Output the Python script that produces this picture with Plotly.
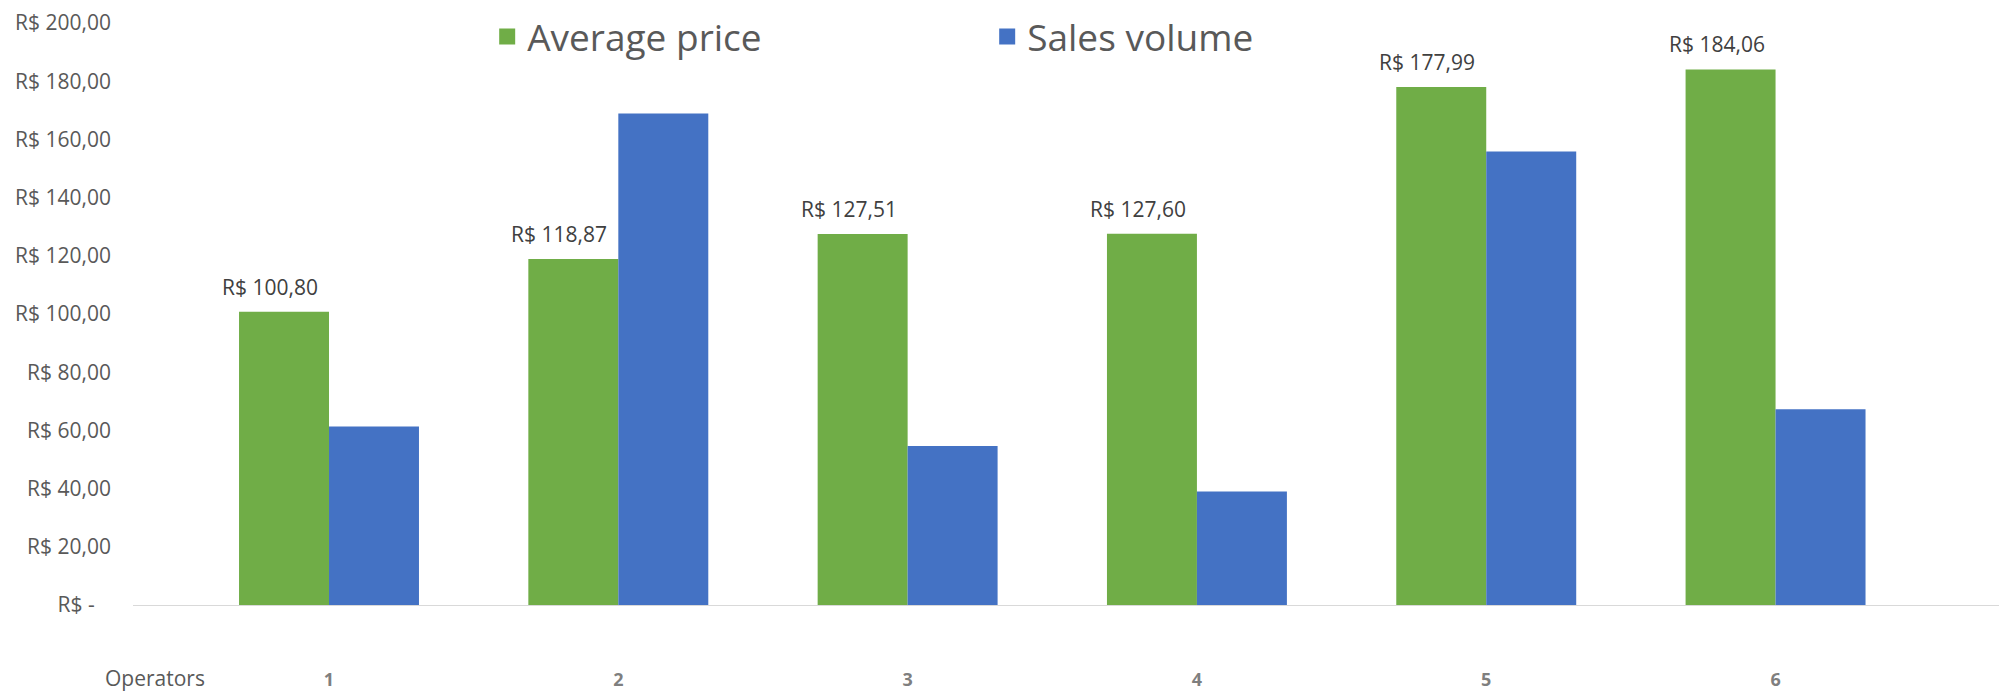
import plotly.graph_objects as go

# ---- data ----
operators = [1, 2, 3, 4, 5, 6]
operator_labels = ["1", "2", "3", "4", "5", "6"]
average_price = [100.80, 118.87, 127.51, 127.60, 177.99, 184.06]
sales_volume = [61.3, 168.9, 54.6, 39.0, 155.8, 67.3]
y_ticks = [0, 20, 40, 60, 80, 100, 120, 140, 160, 180, 200]


def brl(v):
    s = f"{v:,.2f}"
    s = s.replace(",", "X").replace(".", ",").replace("X", ".")
    return "R$ " + s


y_ticktext = [("R$ -\u00a0\u00a0\u00a0" if v == 0 else brl(v)) for v in y_ticks]

GREEN = "#70AD47"
BLUE = "#4472C4"
FONT = "Open Sans"
PAGE_OFFSET = 8  # default body margin of the html page

fig = go.Figure()
fig.add_trace(go.Bar(x=operators, y=average_price, name="Average price",
                     marker=dict(color=GREEN, line=dict(width=0)),
                     legendgroup="ap", showlegend=False))
fig.add_trace(go.Bar(x=operators, y=sales_volume, name="Sales volume",
                     marker=dict(color=BLUE, line=dict(width=0)),
                     legendgroup="sv", showlegend=False))
# legend entries (square markers)
fig.add_trace(go.Scatter(x=[None], y=[None], mode="markers", name="Average price",
                         marker=dict(symbol="square", size=16, color=GREEN),
                         legendgroup="ap"))
fig.add_trace(go.Scatter(x=[None], y=[None], mode="markers", name="Sales volume",
                         marker=dict(symbol="square", size=16, color=BLUE),
                         legendgroup="sv"))

# data labels for average price
for xv, yv in zip(operators, average_price):
    fig.add_annotation(x=xv, y=yv, text=brl(yv), showarrow=False,
                       xref="x", yref="y", xanchor="center", yanchor="middle",
                       xshift=-59, yshift=25,
                       font=dict(family=FONT, size=21, color="#404040"))

fig.add_annotation(text="Operators", xref="paper", yref="paper",
                   x=-0.016, y=-0.1246, xanchor="left", yanchor="middle",
                   showarrow=False, font=dict(family=FONT, size=21, color="#595959"))

fig.update_layout(
    width=2007 - PAGE_OFFSET, height=691 - PAGE_OFFSET,
    margin=dict(l=133 - PAGE_OFFSET, r=0, t=23 - PAGE_OFFSET, b=86, autoexpand=False),
    paper_bgcolor="white", plot_bgcolor="white",
    barmode="group", bargap=0.378, bargroupgap=0,
    font=dict(family=FONT, color="#595959"),
    legend=dict(orientation="h", x=0.189, xanchor="left", y=0.976, yanchor="middle",
                font=dict(family=FONT, size=37, color="#595959"),
                entrywidth=455, itemsizing="trace", bgcolor="rgba(0,0,0,0)"),
    showlegend=True,
)
fig.update_xaxes(range=[0.3225, 6.80], tickmode="array", tickvals=operators,
                 ticktext=operator_labels, showgrid=False, zeroline=False,
                 showline=True, linecolor="#d9d9d9", linewidth=1,
                 ticks="", ticklabelstandoff=58,
                 tickfont=dict(family=FONT, size=18, color="#7f7f7f", weight="bold"))
fig.update_yaxes(range=[0, 200], tickmode="array", tickvals=y_ticks,
                 ticktext=y_ticktext, showgrid=False, zeroline=False,
                 showline=False, ticks="", ticklabelstandoff=21,
                 tickfont=dict(family=FONT, size=21, color="#595959"))

fig.write_html("out.html")
